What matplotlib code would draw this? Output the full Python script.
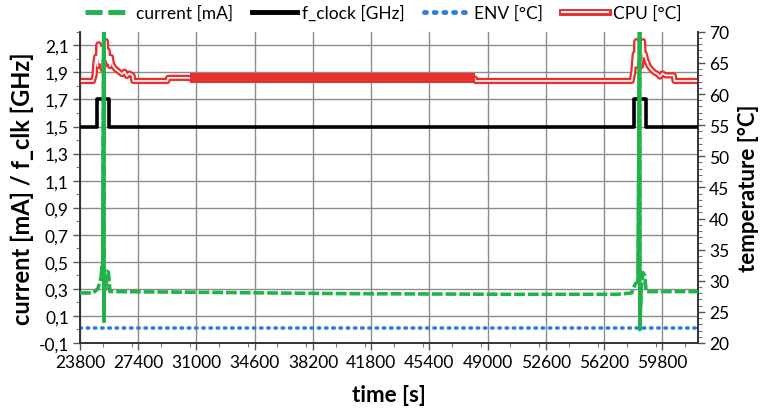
import matplotlib
matplotlib.use("Agg")
import matplotlib.pyplot as plt
from matplotlib.lines import Line2D
from matplotlib.ticker import MultipleLocator, FuncFormatter
import matplotlib.patheffects as pe

plt.rcParams['font.family'] = ['Lato', 'DejaVu Sans']

# ---- data ----
current_t = [23800, 24600, 24900, 25000, 25100, 25150, 25200, 25275, 25285, 25300, 25400, 25500, 25560, 25650,
             31000, 40000, 50000, 57000, 57900, 58100, 58300, 58394, 58404, 58480, 58600, 58700, 58800, 62000]
current_v = [0.27, 0.27, 0.30, 0.34, 0.38, 0.46, 0.40, 2.40, 0.06, 0.40, 0.30, 0.43, 0.42, 0.28,
             0.275, 0.265, 0.26, 0.26, 0.27, 0.33, 0.36, 2.40, 0.00, 0.30, 0.42, 0.40, 0.28, 0.28]
spike_windows = [(25200, 25300), (58300, 58480)]

clock_t = [23800, 24853, 25615, 58022, 58765, 62000]
clock_v = [1.5, 1.7, 1.5, 1.7, 1.5, 1.5]

env_t = [23800, 62000]
env_v = [22.4, 22.4]

cpu_t = [23800, 24600, 24700, 24750, 24800, 24880, 24950, 25000, 25050, 25100, 25150, 25200, 25250,
         25320, 25400, 25450, 25500, 25550, 25600, 25650, 25700, 25780, 25850,
         26000, 26200, 26400, 26550, 26700, 26850, 27050, 27100, 29200, 29250, 30500, 30600,
         48200, 48250, 57900, 58000, 58060, 58100, 58150, 58200, 58250, 58280, 58330, 58380, 58430, 58480,
         58550, 58600, 58650, 58700, 58800, 58950,
         59100, 59300, 59500, 59650, 59800, 60000, 60500, 60550, 62000]
cpu_v = [62.1, 62.1, 63.0, 65.0, 66.0, 64.5, 68.0, 66.0, 65.0, 67.5, 67.0, 64.0, 64.5,
         66.5, 68.5, 65.5, 67.0, 65.0, 66.0, 64.5, 66.0, 64.8, 64.5,
         64.0, 63.6, 63.2, 63.6, 62.9, 63.3, 63.0, 62.1, 62.1, 62.6, 62.6, 62.5,
         62.5, 62.1, 62.1, 63.5, 65.5, 66.5, 64.5, 68.5, 66.0, 65.0, 67.5, 64.5, 66.5, 64.5,
         67.5, 68.5, 66.0, 66.5, 65.5, 64.5,
         64.0, 63.5, 63.2, 62.8, 63.3, 63.0, 63.0, 62.1, 62.1]
cpu_band_t = [30600, 48200]
cpu_band_lo = [61.7, 61.7]
cpu_band_hi = [63.4, 63.4]

x_ticks = [23800, 27400, 31000, 34600, 38200, 41800, 45400, 49000, 52600, 56200, 59800]
left_ticks = [-0.1, 0.1, 0.3, 0.5, 0.7, 0.9, 1.1, 1.3, 1.5, 1.7, 1.9, 2.1]
right_ticks = [20, 25, 30, 35, 40, 45, 50, 55, 60, 65, 70]

GREEN = '#22b24c'
RED = '#e8312f'
BLUE = '#2f7fd8'

fig = plt.figure(figsize=(7.62, 4.10), dpi=100)
ax = fig.add_axes([0.105, 0.161, 0.811, 0.759])
ax2 = ax.twinx()

ax.set_xlim(23800, 62000)
ax.set_ylim(-0.1, 2.2)
ax2.set_ylim(20, 70)

# grid
for y in left_ticks:
    ax2.axhline(20 + (y + 0.1) / 2.3 * 50, color='#8c8c8c', lw=1.0, zorder=0)
for x in x_ticks:
    ax2.axvline(x, color='#8c8c8c', lw=1.0, zorder=0)

# CPU (right axis), double-line style
ax2.plot(cpu_t, cpu_v, color='white', lw=1.2, zorder=3,
         path_effects=[pe.Stroke(linewidth=4.5, foreground=RED), pe.Normal()])
ax2.fill_between(cpu_band_t, cpu_band_lo, cpu_band_hi, color=RED, lw=0, zorder=4)
# ENV
ax2.plot(env_t, env_v, color=BLUE, lw=2.6, linestyle=(0, (0.4, 1.6)),
         dash_capstyle='round', zorder=3)

ax2.set_zorder(1)
ax.set_zorder(2)
ax.patch.set_visible(False)

# clock
ax.plot(clock_t, clock_v, color='black', lw=2.6, drawstyle='steps-post', zorder=4)

# current
ax.plot(current_t, current_v, color=GREEN, lw=2.6, linestyle=(0, (3, 0.8)), zorder=5)
for a, b in spike_windows:
    idx = [i for i, t in enumerate(current_t) if a <= t <= b]
    ax.plot([current_t[i] for i in idx], [current_v[i] for i in idx], color=GREEN, lw=2.6,
            zorder=5, solid_joinstyle='round')

# ticks
ax.set_xticks(x_ticks)
ax.xaxis.set_minor_locator(MultipleLocator(1800))
ax.set_yticks(left_ticks)
ax.yaxis.set_minor_locator(MultipleLocator(0.1))
ax.yaxis.set_major_formatter(FuncFormatter(lambda v, p: f"{v:.1f}".replace('.', ',')))
ax2.set_yticks(right_ticks)
ax2.yaxis.set_minor_locator(MultipleLocator(1))

for a in (ax, ax2):
    a.tick_params(axis='both', which='major', labelsize=12.5, length=5, width=1, color='#555555', pad=3)
    a.tick_params(axis='both', which='minor', length=3, width=0.8, color='#777777')
    a.spines['top'].set_visible(False)
    for s in ('left', 'right', 'bottom'):
        a.spines[s].set_color('#333333')
        a.spines[s].set_linewidth(1.2)
ax.tick_params(axis='y', which='both', right=False)
ax2.tick_params(axis='y', which='both', left=False)

ax.set_xlabel('time [s]', fontsize=16, fontweight='bold', labelpad=10)
ax.set_ylabel('current [mA] / f_clk [GHz]', fontsize=17, fontweight='bold', labelpad=3)
ax2.set_ylabel('temperature [°C]', fontsize=16, fontweight='bold', labelpad=6)

handles = [
    Line2D([0], [0], color=GREEN, lw=3.5, linestyle=(0, (3.5, 1.2))),
    Line2D([0], [0], color='black', lw=3.5),
    Line2D([0], [0], color=BLUE, lw=3.5, linestyle=(0, (0.4, 1.6)), dash_capstyle='round'),
    Line2D([0], [0], color='white', lw=1.4,
           path_effects=[pe.Stroke(linewidth=5, foreground=RED), pe.Normal()]),
]
labels = ['current [mA]', 'f_clock [GHz]', 'ENV [°C]', 'CPU [°C]']
fig.legend(handles, labels, loc='center', bbox_to_anchor=(0.503, 0.966), ncol=4, frameon=False,
           fontsize=12.5, handlelength=2.6, columnspacing=1.1, handletextpad=0.3)

fig.savefig('out.png', dpi=100)
